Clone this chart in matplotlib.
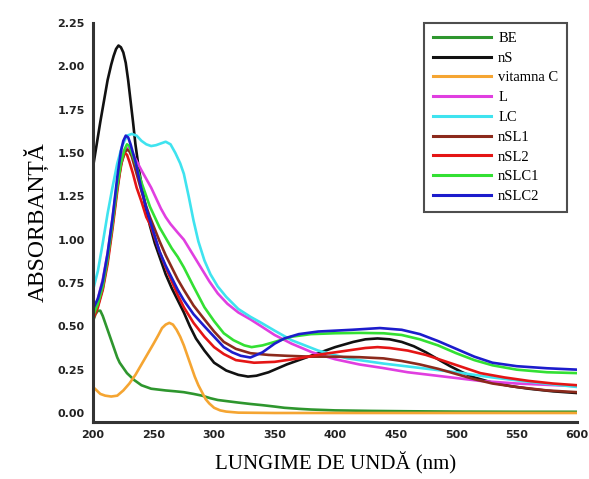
import matplotlib
matplotlib.use("Agg")
import matplotlib.pyplot as plt

# UV-Vis absorption spectra (wavelength in nm, absorbance)
wl_be = [200, 202, 204, 206, 208, 210, 212, 214, 216, 218, 220, 222, 225, 228, 231, 234, 237, 240, 244, 248, 254, 260, 268, 275, 283, 290, 297, 303, 312, 320, 330, 340, 350, 358, 370, 380, 400, 430, 460, 500, 550, 600]
abs_be = [0.53, 0.57, 0.59, 0.59, 0.56, 0.52, 0.48, 0.44, 0.40, 0.36, 0.32, 0.29, 0.26, 0.23, 0.21, 0.19, 0.175, 0.16, 0.15, 0.14, 0.135, 0.13, 0.125, 0.12, 0.11, 0.10, 0.085, 0.075, 0.067, 0.06, 0.052, 0.045, 0.037, 0.03, 0.024, 0.02, 0.015, 0.012, 0.01, 0.008, 0.007, 0.007]

wl_ns = [200, 203, 206, 209, 212, 215, 217, 219, 221, 223, 225, 227, 229, 231, 233, 235, 238, 240, 243, 247, 251, 255, 260, 265, 270, 275, 280, 285, 292, 300, 310, 320, 328, 335, 345, 360, 380, 400, 415, 425, 435, 445, 455, 465, 475, 485, 495, 505, 515, 530, 545, 560, 580, 600]
abs_ns = [1.42, 1.55, 1.68, 1.80, 1.92, 2.01, 2.06, 2.10, 2.12, 2.11, 2.08, 2.02, 1.92, 1.80, 1.68, 1.55, 1.40, 1.32, 1.20, 1.08, 0.98, 0.90, 0.80, 0.72, 0.65, 0.58, 0.50, 0.43, 0.36, 0.29, 0.245, 0.22, 0.21, 0.215, 0.235, 0.28, 0.33, 0.38, 0.41, 0.425, 0.43, 0.425, 0.41, 0.385, 0.35, 0.31, 0.27, 0.235, 0.205, 0.175, 0.155, 0.14, 0.125, 0.115]

wl_vitc = [200, 203, 206, 210, 215, 220, 225, 230, 235, 240, 245, 250, 254, 257, 260, 263, 266, 269, 272, 275, 278, 281, 284, 287, 290, 293, 296, 300, 305, 310, 320, 350, 400, 500, 600]
abs_vitc = [0.15, 0.13, 0.11, 0.10, 0.095, 0.10, 0.13, 0.17, 0.22, 0.28, 0.34, 0.40, 0.45, 0.49, 0.51, 0.52, 0.51, 0.48, 0.44, 0.39, 0.33, 0.27, 0.21, 0.16, 0.12, 0.08, 0.055, 0.03, 0.015, 0.008, 0.002, 0.0, 0.0, 0.0, 0.0]

wl_l = [200, 204, 208, 212, 216, 219, 222, 225, 228, 231, 234, 237, 240, 244, 248, 252, 256, 260, 264, 270, 275, 282, 289, 296, 303, 311, 320, 330, 339, 350, 364, 381, 400, 420, 439, 460, 490, 520, 550, 600]
abs_l = [0.58, 0.66, 0.77, 0.92, 1.12, 1.28, 1.42, 1.51, 1.53, 1.52, 1.48, 1.44, 1.40, 1.35, 1.30, 1.24, 1.18, 1.13, 1.09, 1.04, 1.00, 0.92, 0.84, 0.76, 0.69, 0.63, 0.58, 0.54, 0.50, 0.45, 0.40, 0.35, 0.31, 0.28, 0.26, 0.235, 0.21, 0.185, 0.17, 0.155]

wl_lc = [200, 204, 208, 212, 216, 220, 224, 228, 232, 236, 240, 244, 248, 252, 256, 260, 264, 268, 272, 275, 279, 283, 287, 292, 297, 303, 310, 320, 330, 339, 350, 364, 386, 410, 440, 470, 500, 530, 560, 600]
abs_lc = [0.71, 0.82, 0.98, 1.15, 1.30, 1.44, 1.54, 1.60, 1.61, 1.60, 1.57, 1.55, 1.54, 1.545, 1.555, 1.565, 1.55, 1.50, 1.44, 1.38, 1.25, 1.11, 0.99, 0.88, 0.80, 0.73, 0.67, 0.60, 0.555, 0.52, 0.475, 0.42, 0.36, 0.315, 0.285, 0.26, 0.235, 0.205, 0.18, 0.15]

wl_nsl1 = [200, 204, 208, 212, 216, 220, 223, 226, 228, 230, 232, 236, 240, 244, 247, 251, 255, 260, 265, 270, 275, 283, 292, 300, 308, 318, 330, 345, 360, 380, 400, 420, 440, 455, 470, 485, 500, 515, 530, 550, 575, 600]
abs_nsl1 = [0.55, 0.62, 0.72, 0.88, 1.08, 1.30, 1.43, 1.50, 1.52, 1.51, 1.48, 1.38, 1.28, 1.19, 1.13, 1.06, 0.99, 0.91, 0.84, 0.77, 0.71, 0.62, 0.54, 0.47, 0.41, 0.37, 0.345, 0.335, 0.33, 0.325, 0.325, 0.322, 0.315, 0.30, 0.28, 0.255, 0.225, 0.195, 0.17, 0.15, 0.13, 0.12]

wl_nsl2 = [200, 204, 208, 212, 216, 220, 222, 224, 226, 228, 230, 233, 236, 240, 244, 247, 251, 255, 260, 265, 270, 275, 283, 292, 300, 308, 318, 333, 350, 370, 390, 410, 425, 435, 445, 460, 475, 490, 505, 520, 540, 560, 580, 600]
abs_nsl2 = [0.54, 0.61, 0.71, 0.86, 1.06, 1.28, 1.38, 1.46, 1.50, 1.49, 1.45, 1.38, 1.30, 1.22, 1.13, 1.09, 1.01, 0.93, 0.84, 0.76, 0.68, 0.61, 0.52, 0.44, 0.38, 0.34, 0.305, 0.29, 0.295, 0.315, 0.34, 0.36, 0.375, 0.38, 0.375, 0.36, 0.335, 0.30, 0.265, 0.23, 0.205, 0.185, 0.17, 0.16]

wl_nslc1 = [200, 204, 208, 212, 216, 220, 223, 226, 228, 230, 232, 236, 240, 244, 247, 251, 255, 260, 265, 270, 275, 283, 292, 300, 308, 316, 325, 331, 340, 350, 364, 380, 400, 420, 440, 455, 470, 485, 500, 515, 530, 550, 575, 600]
abs_nslc1 = [0.56, 0.63, 0.73, 0.89, 1.09, 1.31, 1.44, 1.52, 1.55, 1.54, 1.50, 1.42, 1.33, 1.25, 1.19, 1.13, 1.07, 1.01, 0.95, 0.90, 0.84, 0.73, 0.61, 0.53, 0.46, 0.42, 0.39, 0.38, 0.39, 0.41, 0.44, 0.455, 0.46, 0.462, 0.46, 0.45, 0.425, 0.39, 0.345, 0.305, 0.275, 0.25, 0.235, 0.23]

wl_nslc2 = [200, 204, 208, 212, 216, 220, 223, 225, 227, 229, 231, 235, 240, 244, 247, 251, 255, 260, 265, 270, 275, 283, 292, 300, 308, 315, 322, 330, 340, 350, 358, 370, 386, 414, 437, 455, 470, 485, 500, 515, 530, 550, 575, 600]
abs_nslc2 = [0.60, 0.66, 0.76, 0.92, 1.12, 1.36, 1.51, 1.57, 1.60, 1.59, 1.55, 1.45, 1.29, 1.18, 1.11, 1.02, 0.93, 0.85, 0.78, 0.71, 0.65, 0.57, 0.50, 0.44, 0.38, 0.35, 0.33, 0.32, 0.35, 0.40, 0.43, 0.455, 0.47, 0.48, 0.49, 0.48, 0.455, 0.415, 0.37, 0.325, 0.29, 0.27, 0.258, 0.25]

series = [
    ("BE", wl_be, abs_be, "#2e962e"),
    ("nS", wl_ns, abs_ns, "#111111"),
    ("vitamna C", wl_vitc, abs_vitc, "#f5a532"),
    ("L", wl_l, abs_l, "#e03fe0"),
    ("LC", wl_lc, abs_lc, "#3fe3ef"),
    ("nSL1", wl_nsl1, abs_nsl1, "#8c2a1c"),
    ("nSL2", wl_nsl2, abs_nsl2, "#e41515"),
    ("nSLC1", wl_nslc1, abs_nslc1, "#33e033"),
    ("nSLC2", wl_nslc2, abs_nslc2, "#1c1ccc"),
]

x_ticks = [200, 250, 300, 350, 400, 450, 500, 550, 600]
y_ticks = [0.00, 0.25, 0.50, 0.75, 1.00, 1.25, 1.50, 1.75, 2.00, 2.25]

fig = plt.figure(figsize=(5.89, 4.79), dpi=100)
ax = fig.add_axes([0.158, 0.119, 0.822, 0.833])

for name, wl, a, col in series:
    ax.plot(wl, a, color=col, lw=1.9, label=name, solid_joinstyle="round")

ax.set_xlim(200, 600)
ax.set_ylim(-0.052, 2.25)
ax.set_xticks(x_ticks)
ax.set_yticks(y_ticks)
ax.set_xticklabels([str(t) for t in x_ticks])
ax.set_yticklabels([f"{t:.2f}" for t in y_ticks])
ax.tick_params(length=0, labelsize=8, pad=6, labelcolor="#222222")
for lab in ax.get_xticklabels() + ax.get_yticklabels():
    lab.set_fontweight("bold")

for s in ("top", "right"):
    ax.spines[s].set_visible(False)
for s in ("left", "bottom"):
    ax.spines[s].set_linewidth(2.2)
    ax.spines[s].set_color("#333333")

ax.set_ylabel("ABSORBANȚĂ", family="Liberation Serif", fontsize=17, labelpad=6)
ax.set_xlabel("LUNGIME DE UNDĂ (nm)", family="Liberation Serif", fontsize=15, labelpad=8)

leg = ax.legend(loc="upper right", bbox_to_anchor=(0.979, 1.0), borderaxespad=0,
                prop={"family": "Liberation Serif", "size": 10.5},
                frameon=True, fancybox=False, edgecolor="#222222", handlelength=4.0,
                labelspacing=0.45, borderpad=0.6, handletextpad=0.5)
leg.get_frame().set_linewidth(1.5)
for line in leg.get_lines():
    line.set_linewidth(2.2)

fig.savefig("out.png", dpi=100)
